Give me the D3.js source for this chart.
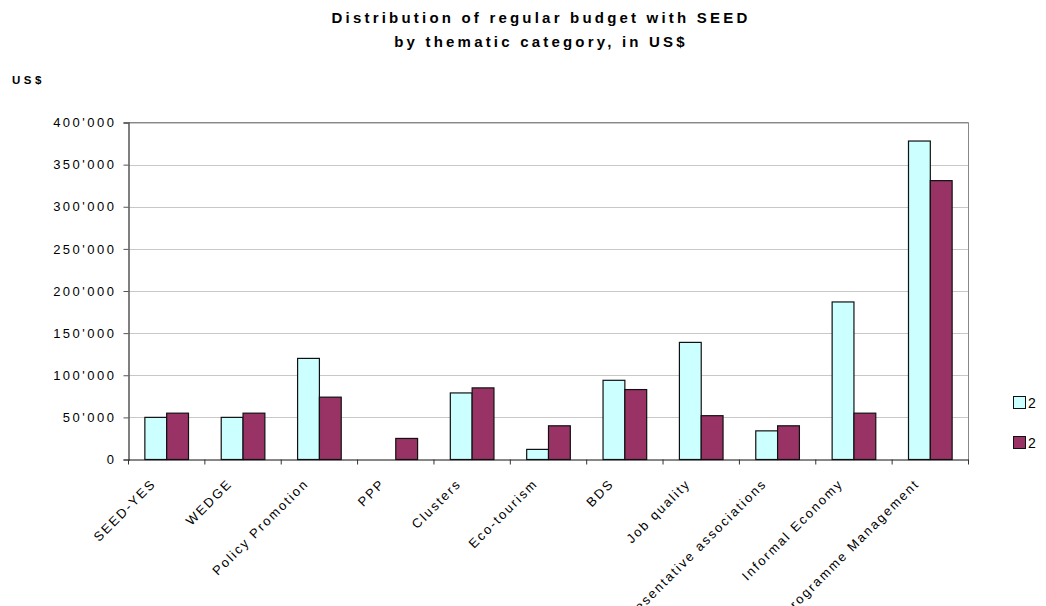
<!DOCTYPE html>
<html>
<head>
<meta charset="utf-8">
<script src="https://cdn.jsdelivr.net/npm/d3@7"></script>
<style>
  body { margin: 0; background: #fff; }
  svg { display: block; font-family: Arial, "Liberation Sans", sans-serif; }
</style>
</head>
<body>
<svg id="chart" width="1046" height="606"></svg>
<script>
const categories = ["SEED-YES", "WEDGE", "Policy Promotion", "PPP", "Clusters", "Eco-tourism", "BDS", "Job quality", "Representative associations", "Informal Economy", "Programme Management"];
const seriesNames = ["2", "2"];
const series1 = [50000, 50000, 120000, 0, 79000, 12000, 94000, 139000, 34000, 187000, 378000];
const series2 = [55000, 55000, 74000, 25000, 85000, 40000, 83000, 52000, 40000, 55000, 331000];
const yTicks = [0, 50000, 100000, 150000, 200000, 250000, 300000, 350000, 400000];
const colors = ["#CCFFFF", "#993366"];

const svg = d3.select("#chart");
const pLeft = 128.5, pRight = 968.5, pTop = 122.5, pBottom = 459.5;

const x = d3.scaleBand().domain(categories).range([pLeft, pRight]).paddingInner(0).paddingOuter(0);
const y = d3.scaleLinear().domain([0, 400000]).range([pBottom, pTop]);
const barW = x.bandwidth() / 3.5;

const fmt = v => d3.format(",")(v).replace(/,/g, "'");

// Title
svg.append("text").attr("x", 541).attr("y", 23).attr("text-anchor", "middle")
  .attr("font-size", 15).attr("font-weight", "bold").attr("letter-spacing", 3.2)
  .text("Distribution of regular budget with SEED");
svg.append("text").attr("x", 541).attr("y", 47).attr("text-anchor", "middle")
  .attr("font-size", 15).attr("font-weight", "bold").attr("letter-spacing", 3.2)
  .text("by thematic category, in US$");
svg.append("text").attr("x", 12).attr("y", 84)
  .attr("font-size", 11.5).attr("font-weight", "bold").attr("letter-spacing", 3.5)
  .text("US$");

// Gridlines
svg.append("g").selectAll("line").data(yTicks.filter(d => d > 0)).join("line")
  .attr("x1", pLeft).attr("x2", pRight)
  .attr("y1", d => Math.round(y(d)) + 0.5).attr("y2", d => Math.round(y(d)) + 0.5)
  .attr("stroke", "#c8c8c8").attr("stroke-width", 1);

// Plot border (top and right)
svg.append("path")
  .attr("d", `M${pLeft},${pTop}H${pRight}V${pBottom}`)
  .attr("fill", "none").attr("stroke", "#888").attr("stroke-width", 1);

// Bars
const g = svg.append("g");
[series1, series2].forEach((s, si) => {
  g.selectAll(null).data(categories.filter((d, i) => s[i] > 0)).join("rect")
    .attr("x", d => x(d) + x.bandwidth() / 2 - barW + si * barW)
    .attr("y", d => y(s[categories.indexOf(d)]))
    .attr("width", barW)
    .attr("height", d => pBottom - y(s[categories.indexOf(d)]))
    .attr("fill", colors[si])
    .attr("stroke", "#111").attr("stroke-width", 1.2);
});

// Y axis
const yAxis = d3.axisLeft(y).tickValues(yTicks).tickFormat(fmt).tickSize(5).tickPadding(7);
const ya = svg.append("g").attr("transform", `translate(${pLeft},0)`).call(yAxis);
ya.select(".domain").attr("stroke", "#555").attr("stroke-width", 1.5);
ya.selectAll(".tick line").attr("stroke", "#555");
ya.selectAll("text").attr("font-size", 13).attr("letter-spacing", 2.5)
  .attr("font-family", "Arial, 'Liberation Sans', sans-serif").attr("fill", "#000");

// X axis
const xAxis = d3.axisBottom(x).tickSize(0).tickFormat("");
const xa = svg.append("g").attr("transform", `translate(0,${pBottom})`).call(xAxis);
xa.select(".domain").attr("stroke", "#111").attr("stroke-width", 1.2);
xa.selectAll(".tick").remove();
svg.append("g").selectAll("line").data(d3.range(categories.length + 1)).join("line")
  .attr("x1", i => pLeft + i * x.bandwidth()).attr("x2", i => pLeft + i * x.bandwidth())
  .attr("y1", pBottom).attr("y2", pBottom + 5).attr("stroke", "#333");

svg.append("g").selectAll("text").data(categories).join("text")
  .attr("transform", d => `translate(${x(d) + x.bandwidth() / 2 - 10},${pBottom + 25}) rotate(-45)`)
  .attr("text-anchor", "end")
  .attr("font-size", 13).attr("letter-spacing", 2)
  .text(d => d);

// Legend
const lg = svg.append("g");
[0, 1].forEach(i => {
  const yy = 396 + i * 40;
  lg.append("rect").attr("x", 1013.5).attr("y", yy + 0.5).attr("width", 12).attr("height", 12)
    .attr("fill", colors[i]).attr("stroke", "#111");
  lg.append("text").attr("x", 1028).attr("y", yy + 12).attr("font-size", 14).text(seriesNames[i]);
});
</script>
</body>
</html>
